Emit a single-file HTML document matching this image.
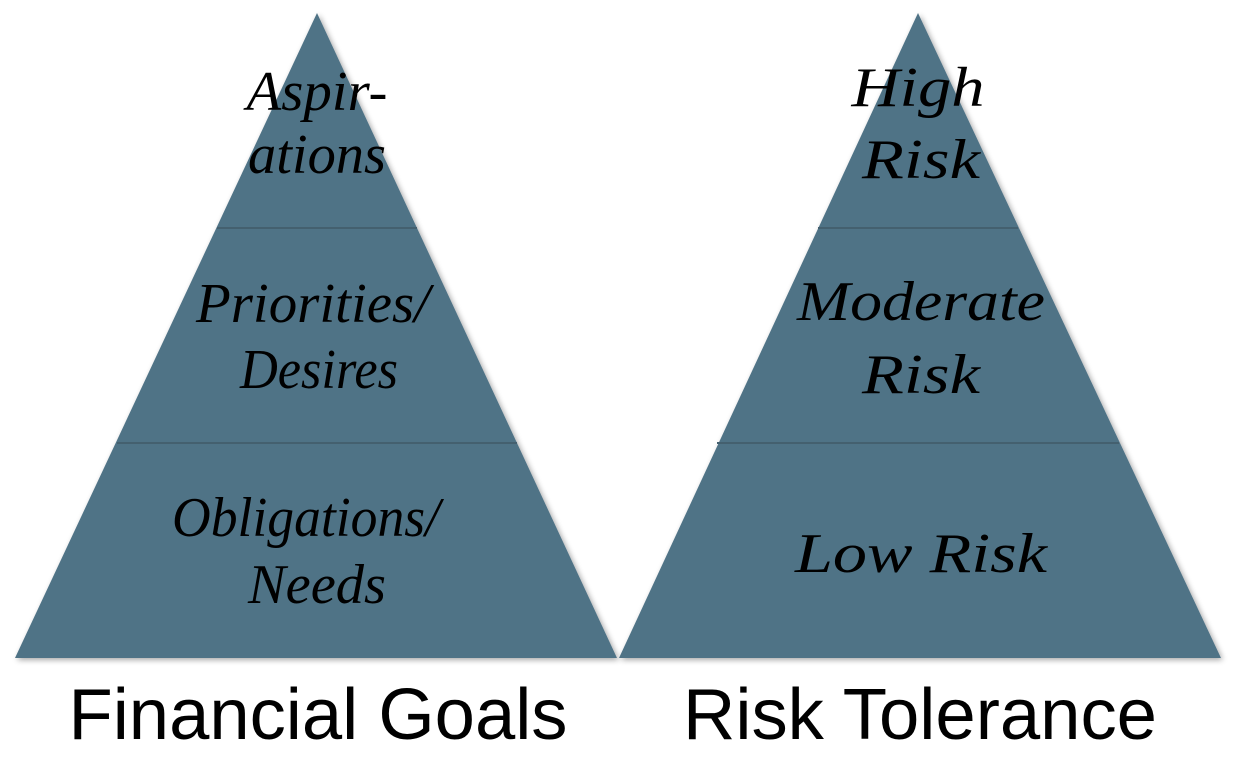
<!DOCTYPE html>
<html><head><meta charset="utf-8"><style>
body{margin:0;background:#fff;width:1237px;height:763px;overflow:hidden}
svg{display:block}
.t{font-family:"Liberation Serif",serif;font-style:italic;font-size:56px;fill:#000;text-anchor:middle}
.b{font-family:"Liberation Sans",sans-serif;font-size:72px;fill:#000;text-anchor:middle}
</style></head><body>
<svg width="1237" height="763">
<defs>
<filter id="sh" x="-5%" y="-5%" width="110%" height="110%"><feGaussianBlur in="SourceAlpha" stdDeviation="3"/><feOffset dx="2" dy="2"/><feComponentTransfer><feFuncA type="linear" slope="0.35"/></feComponentTransfer><feMerge><feMergeNode/><feMergeNode in="SourceGraphic"/></feMerge></filter>
</defs>
<g>
<polygon points="317,13 617,658 15,658" fill="#507386" filter="url(#sh)"/>
<line x1="217" y1="228" x2="417" y2="228" stroke="#44606f" stroke-width="2"/>
<line x1="117" y1="443" x2="517" y2="443" stroke="#44606f" stroke-width="2"/>
<text class="t" x="317" y="110" textLength="141" lengthAdjust="spacingAndGlyphs">Aspir-</text>
<text class="t" x="317" y="173" textLength="138" lengthAdjust="spacingAndGlyphs">ations</text>
<text class="t" x="313" y="322" textLength="234" lengthAdjust="spacingAndGlyphs">Priorities/</text>
<text class="t" x="319" y="388" textLength="158" lengthAdjust="spacingAndGlyphs">Desires</text>
<text class="t" x="306" y="536" textLength="268" lengthAdjust="spacingAndGlyphs">Obligations/</text>
<text class="t" x="317" y="603" textLength="138" lengthAdjust="spacingAndGlyphs">Needs</text>
</g>
<g>
<polygon points="918,13 1221,658 619,658" fill="#507386" filter="url(#sh)"/>
<line x1="818" y1="228" x2="1018" y2="228" stroke="#44606f" stroke-width="2"/>
<line x1="717" y1="443" x2="1119" y2="443" stroke="#44606f" stroke-width="2"/>
<text class="t" x="918" y="106" textLength="133" lengthAdjust="spacingAndGlyphs">High</text>
<text class="t" x="921" y="178" textLength="118" lengthAdjust="spacingAndGlyphs">Risk</text>
<text class="t" x="921" y="320" textLength="248" lengthAdjust="spacingAndGlyphs">Moderate</text>
<text class="t" x="921" y="393" textLength="118" lengthAdjust="spacingAndGlyphs">Risk</text>
<text class="t" x="921" y="572" textLength="252" lengthAdjust="spacingAndGlyphs">Low Risk</text>
</g>
<text class="b" x="318" y="739" textLength="499" lengthAdjust="spacingAndGlyphs">Financial Goals</text>
<text class="b" x="920" y="739" textLength="474" lengthAdjust="spacingAndGlyphs">Risk Tolerance</text>
</svg>
</body></html>
